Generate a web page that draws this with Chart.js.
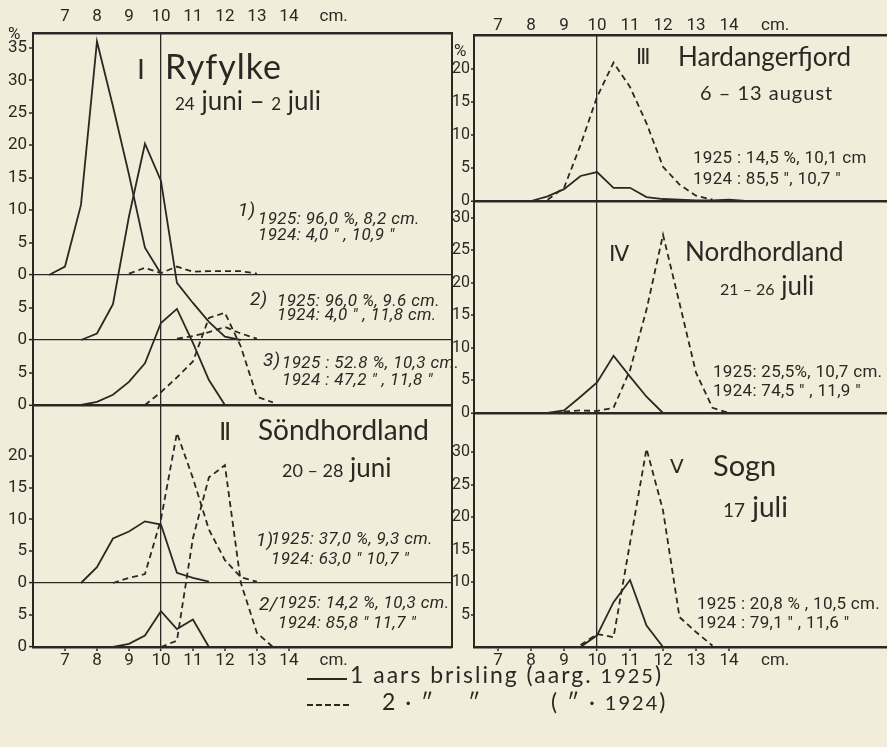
<!DOCTYPE html>
<html><head><meta charset="utf-8">
<script src="https://cdn.jsdelivr.net/npm/chart.js@4.4.1/dist/chart.umd.min.js"></script>
<style>
html,body{margin:0;padding:0;background:#f2eddb;}
#wrap{position:relative;width:887px;height:747px;overflow:hidden;background:#f2eddb;}
canvas{position:absolute;top:0;}
.t{position:absolute;white-space:nowrap;color:#2b2824;line-height:1;}
.ti{font-family:Lato,'Open Sans',sans-serif;}
.rn{font-family:'DejaVu Sans',sans-serif;}
.an{font-family:Roboto,'DejaVu Sans',sans-serif;font-style:italic;font-size:17px;letter-spacing:0.4px;}
.ar{font-family:Roboto,'DejaVu Sans',sans-serif;font-size:17px;letter-spacing:0.3px;}
.lg{font-family:Lato,'Open Sans',sans-serif;font-size:23px;letter-spacing:2px;}
</style></head>
<body><div id="wrap">
<canvas id="cL" width="456" height="668" style="left:0px"></canvas>
<canvas id="cR" width="447" height="668" style="left:440px"></canvas>

<!-- left panel texts -->
<div class="t ar" style="left:8px;top:25px;">%</div>
<div class="t rn" style="left:137px;top:56px;font-size:27px;">Ⅰ</div>
<div class="t ti" style="left:165px;top:49px;font-size:34px;letter-spacing:1px;">Ryfylke</div>
<div class="t ti" style="left:175px;top:87px;font-size:26px;"><span style="font-size:17px">24</span> juni – <span style="font-size:17px">2</span> juli</div>

<div class="t an" style="left:238px;top:200px;font-size:19px;">1)</div>
<div class="t an" style="left:258px;top:210px;">1925: 96,0 %, 8,2 cm.</div>
<div class="t an" style="left:258px;top:226px;">1924: 4,0 ″ , 10,9 ″</div>

<div class="t an" style="left:250px;top:289px;font-size:19px;">2)</div>
<div class="t an" style="left:277px;top:292px;">1925: 96,0 %, 9.6 cm.</div>
<div class="t an" style="left:277px;top:306px;">1924: 4,0 ″ , 11,8 cm.</div>

<div class="t an" style="left:263px;top:350px;font-size:19px;">3)</div>
<div class="t an" style="left:282px;top:354px;">1925 : 52.8 %, 10,3 cm.</div>
<div class="t an" style="left:282px;top:371px;">1924 : 47,2 ″ , 11,8 ″</div>

<div class="t rn" style="left:219px;top:419px;font-size:25px;">Ⅱ</div>
<div class="t ti" style="left:258px;top:415px;font-size:28px;">Söndhordland</div>
<div class="t ti" style="left:282px;top:454px;font-size:26px;"><span style="font-size:18px">20 – 28</span> juni</div>

<div class="t an" style="left:256px;top:530px;font-size:19px;">1)</div>
<div class="t an" style="left:271px;top:530px;">1925: 37,0 %, 9,3 cm.</div>
<div class="t an" style="left:271px;top:550px;">1924: 63,0 ″ 10,7 ″</div>

<div class="t an" style="left:259px;top:594px;font-size:19px;">2/</div>
<div class="t an" style="left:278px;top:594px;">1925: 14,2 %, 10,3 cm.</div>
<div class="t an" style="left:278px;top:614px;">1924: 85,8 ″ 11,7 ″</div>

<!-- right panel texts -->
<div class="t ar" style="left:454px;top:42px;">%</div>
<div class="t rn" style="left:636px;top:47px;font-size:21px;">Ⅲ</div>
<div class="t ti" style="left:678px;top:43px;font-size:26px;">Hardangerfjord</div>
<div class="t ti" style="left:700px;top:82px;font-size:20px;letter-spacing:1px;">6 – 13 august</div>
<div class="t ar" style="left:693px;top:149px;">1925 : 14,5 %, 10,1 cm</div>
<div class="t ar" style="left:693px;top:170px;">1924 : 85,5 ″, 10,7 ″</div>

<div class="t rn" style="left:609px;top:243px;font-size:22px;">Ⅳ</div>
<div class="t ti" style="left:685px;top:238px;font-size:26px;">Nordhordland</div>
<div class="t ti" style="left:720px;top:272px;font-size:26px;"><span style="font-size:16px">21 – 26</span> juli</div>
<div class="t ar" style="left:713px;top:363px;">1925: 25,5%, 10,7 cm.</div>
<div class="t ar" style="left:713px;top:382px;">1924: 74,5 ″ , 11,9 ″</div>

<div class="t rn" style="left:670px;top:456px;font-size:20px;">Ⅴ</div>
<div class="t ti" style="left:713px;top:450px;font-size:29px;">Sogn</div>
<div class="t ti" style="left:723px;top:492px;font-size:28px;"><span style="font-size:19px">17</span> juli</div>
<div class="t ar" style="left:697px;top:595px;">1925 : 20,8 % , 10,5 cm.</div>
<div class="t ar" style="left:697px;top:614px;">1924 : 79,1 ″ , 11,6 ″</div>

<!-- legend -->
<div style="position:absolute;left:307px;top:678px;width:40px;height:1.6px;background:#2b2824;"></div>
<div class="t lg" style="left:350px;top:663px;">1 aars brisling (aarg. <span style="font-size:20px">1925</span>)</div>
<div style="position:absolute;left:307px;top:704px;width:45px;height:1.6px;background:repeating-linear-gradient(90deg,#2b2824 0 6px,transparent 6px 9px);"></div>
<div class="t lg" style="left:382px;top:690px;">2 · ″</div>
<div class="t lg" style="left:468px;top:690px;">″</div>
<div class="t lg" style="left:551px;top:690px;">( ″ · <span style="font-size:20px">1924</span>)</div>
</div>

<script>
// ---------- data ----------
const cmTicks = [7, 8, 9, 10, 11, 12, 13, 14];
const cmLabelPos = 15.4;
const cmLabel = 'cm.';

// I Ryfylke, 1)
const ryf1Len1925 = [6.5, 7, 7.5, 8, 8.5, 9, 9.5, 10];
const ryf1Pct1925 = [0, 1.3, 10.8, 36, 26, 15.5, 4.2, 0.2];
const ryf1Len1924 = [9, 9.5, 10, 10.5, 11, 11.5, 12, 12.5, 13];
const ryf1Pct1924 = [0.2, 1.1, 0.3, 1.3, 0.5, 0.6, 0.6, 0.6, 0.2];
// I Ryfylke, 2)
const ryf2Len1925 = [7.5, 8, 8.5, 9, 9.5, 10, 10.5, 11, 11.5, 12, 12.5];
const ryf2Pct1925 = [0, 1, 5.5, 19, 30.2, 24.5, 8.8, 5.7, 2.8, 0.5, 0];
const ryf2Len1924 = [10.5, 11, 11.5, 12, 12.5, 13];
const ryf2Pct1924 = [0.2, 0.6, 1.2, 2, 1, 0.2];
// I Ryfylke, 3)
const ryf3Len1925 = [7.5, 8, 8.5, 9, 9.5, 10, 10.5, 11, 11.5, 12];
const ryf3Pct1925 = [0, 0.5, 1.6, 3.6, 6.5, 12.8, 15, 9.7, 3.9, 0];
const ryf3Len1924 = [9.5, 10, 10.5, 11, 11.5, 12, 12.5, 13, 13.5];
const ryf3Pct1924 = [0, 2, 4.3, 6.8, 13.6, 14.4, 9.1, 1.3, 0.4];
// II Söndhordland, 1)
const sh1Len1925 = [7.5, 8, 8.5, 9, 9.5, 10, 10.5, 11, 11.5];
const sh1Pct1925 = [0, 2.5, 7, 8.1, 9.7, 9.2, 1.6, 0.8, 0.2];
const sh1Len1924 = [8.5, 9, 9.5, 10, 10.5, 11, 11.5, 12, 12.5, 13];
const sh1Pct1924 = [0, 0.8, 1.4, 10, 23.6, 16.5, 8.4, 3.6, 0.9, 0.2];
// II Söndhordland, 2)
const sh2Len1925 = [8.5, 9, 9.5, 10, 10.5, 11, 11.5];
const sh2Pct1925 = [0, 0.5, 1.8, 5.6, 2.8, 4.3, 0];
const sh2Len1924 = [10, 10.5, 11, 11.5, 12, 12.5, 13, 13.5];
const sh2Pct1924 = [0, 1, 17, 26.5, 28.4, 10, 2.2, 0];
// III Hardangerfjord
const hfLen1925 = [8, 8.5, 9, 9.5, 10, 10.5, 11, 11.5, 12, 12.5, 13, 13.5, 14, 14.5];
const hfPct1925 = [0, 0.7, 1.8, 3.8, 4.4, 2, 2, 0.6, 0.3, 0.2, 0.1, 0.1, 0.2, 0];
const hfLen1924 = [8.5, 9, 9.5, 10, 10.5, 11, 11.5, 12, 12.5, 13, 13.5];
const hfPct1924 = [0.2, 2, 8.5, 15.8, 21, 17.3, 11.8, 5.2, 2.5, 0.8, 0.2];
// IV Nordhordland
const nhLen1925 = [8.5, 9, 9.5, 10, 10.5, 11, 11.5, 12];
const nhPct1925 = [0, 0.4, 2.5, 4.7, 8.8, 5.6, 2.5, 0];
const nhLen1924 = [9, 9.5, 10, 10.5, 11, 11.5, 12, 12.5, 13, 13.5, 14];
const nhPct1924 = [0.2, 0.4, 0.3, 0.8, 6.6, 15.9, 27.4, 16.9, 6.2, 0.8, 0];
// V Sogn
const sgLen1925 = [9.5, 10, 10.5, 11, 11.5, 12];
const sgPct1925 = [0, 1.8, 6.9, 10.3, 3.3, 0];
const sgLen1924 = [9.5, 10, 10.5, 11, 11.5, 12, 12.5, 13, 13.5];
const sgPct1924 = [0.3, 2, 1.5, 16, 30.5, 21, 4.6, 2.3, 0.2];

// y tick labels per strip
const ticksRyf1 = [0, 5, 10, 15, 20, 25, 30, 35];
const ticksRyf2 = [0, 5];
const ticksRyf3 = [0, 5];
const ticksSh1 = [0, 5, 10, 15, 20];
const ticksSh2 = [0, 5];
const ticksHf = [0, 5, 10, 15, 20];
const ticksNh = [0, 5, 10, 15, 20, 25, 30];
const ticksSg = [5, 10, 15, 20, 25, 30];

// ---------- styling / layout ----------
const INK = '#2b2824';
const NONE = 'rgba(0,0,0,0)';
const TF = "Roboto, 'DejaVu Sans', sans-serif";

function line(xs, ys, axis, dashed) {
  return {
    data: xs.map((x, i) => ({x: x, y: ys[i]})),
    xAxisID: 'x', yAxisID: axis,
    borderColor: INK, borderWidth: 1.8,
    borderDash: dashed ? [6, 4] : [],
    pointRadius: 0, tension: 0, fill: false, clip: false
  };
}

function strip(max, weight, ticks, zeroW, axW, fs, tl, pad) {
  return {
    type: 'linear', position: 'left', stack: 'p', stackWeight: weight,
    min: 0, max: max,
    afterBuildTicks: s => { s.ticks = ticks.map(v => ({value: v})); },
    afterFit: s => { s.width = axW; },
    ticks: {color: INK, font: {family: TF, size: fs}, padding: pad, autoSkip: false},
    grid: {
      color: c => (c.tick && c.tick.value === 0) ? INK : NONE,
      lineWidth: c => (c.tick && c.tick.value === 0) ? zeroW : 0,
      drawTicks: true, tickLength: tl, tickColor: INK, tickWidth: 1.5
    },
    border: {display: true, color: INK, width: 2}
  };
}

function xAxes(min, max, topH, topPad, botH) {
  const tv = cmTicks.concat([cmLabelPos]);
  const tk = {autoSkip: false, maxRotation: 0, color: INK, font: {family: TF, size: 17},
    callback: v => v === cmLabelPos ? cmLabel : String(v)};
  return {
    x: {type: 'linear', position: 'bottom', min: min, max: max,
      afterBuildTicks: s => { s.ticks = tv.map(v => ({value: v})); },
      afterFit: s => { s.height = botH; },
      ticks: Object.assign({}, tk, {padding: 0}),
      grid: {
        color: c => (c.tick && c.tick.value === 10) ? INK : NONE,
        lineWidth: c => (c.tick && c.tick.value === 10) ? 1.3 : 0,
        tickLength: 4, tickWidth: 1.5,
        tickColor: c => (c.tick && c.tick.value === cmLabelPos) ? NONE : INK
      },
      border: {color: INK, width: 2.5}
    },
    x2: {type: 'linear', position: 'top', min: min, max: max,
      afterBuildTicks: s => { s.ticks = tv.map(v => ({value: v})); },
      afterFit: s => { s.height = topH; },
      ticks: Object.assign({}, tk, {padding: topPad}),
      grid: {display: false, drawTicks: false, tickLength: 0},
      border: {color: INK, width: 2.5}
    }
  };
}

const base = {
  responsive: false, animation: false, devicePixelRatio: 1,
  plugins: {legend: {display: false}, tooltip: {enabled: false}}
};

// Left panel (stacked strips, bottom strip defined first)
const leftScales = Object.assign(xAxes(6, 19.1, 33, 6, 21), {
  sh2: strip(10, 64, ticksSh2, 1.2, 33, 17, 4, 2),
  sh1: strip(28, 178, ticksSh1, 1.2, 33, 17, 4, 2),
  ryf3: strip(10.15, 65, ticksRyf3, 2.6, 33, 17, 4, 2),
  ryf2: strip(10, 65, ticksRyf2, 1.2, 33, 17, 4, 2),
  ryf1: strip(37.3, 242, ticksRyf1, 1.2, 33, 17, 4, 2),
  yr: {type: 'linear', position: 'right', display: true,
    afterFit: s => { s.width = 0; },
    ticks: {display: false}, grid: {display: false},
    border: {display: true, color: INK, width: 2}}
});

new Chart(document.getElementById('cL'), {
  type: 'line',
  data: {datasets: [
    line(ryf1Len1925, ryf1Pct1925, 'ryf1', false),
    line(ryf1Len1924, ryf1Pct1924, 'ryf1', true),
    line(ryf2Len1925, ryf2Pct1925, 'ryf2', false),
    line(ryf2Len1924, ryf2Pct1924, 'ryf2', true),
    line(ryf3Len1925, ryf3Pct1925, 'ryf3', false),
    line(ryf3Len1924, ryf3Pct1924, 'ryf3', true),
    line(sh1Len1925, sh1Pct1925, 'sh1', false),
    line(sh1Len1924, sh1Pct1924, 'sh1', true),
    line(sh2Len1925, sh2Pct1925, 'sh2', false),
    line(sh2Len1924, sh2Pct1924, 'sh2', true)
  ]},
  options: Object.assign({}, base, {
    layout: {padding: {left: 0, right: 4, top: 0, bottom: 0}},
    scales: leftScales
  })
});

// Right panel
const rightScales = Object.assign(xAxes(6.27, 18.79, 35, -1, 21), {
  sg: strip(36, 234, ticksSg, 1.2, 34, 16, 3, 1),
  nh: strip(32.6, 212, ticksNh, 2.6, 34, 16, 3, 1),
  hf: strip(25.2, 166, ticksHf, 2.6, 34, 16, 3, 1)
});

new Chart(document.getElementById('cR'), {
  type: 'line',
  data: {datasets: [
    line(hfLen1925, hfPct1925, 'hf', false),
    line(hfLen1924, hfPct1924, 'hf', true),
    line(nhLen1925, nhPct1925, 'nh', false),
    line(nhLen1924, nhPct1924, 'nh', true),
    line(sgLen1925, sgPct1925, 'sg', false),
    line(sgLen1924, sgPct1924, 'sg', true)
  ]},
  options: Object.assign({}, base, {
    layout: {padding: {left: 0, right: 0, top: 0, bottom: 0}},
    scales: rightScales
  })
});
</script>
</body></html>
